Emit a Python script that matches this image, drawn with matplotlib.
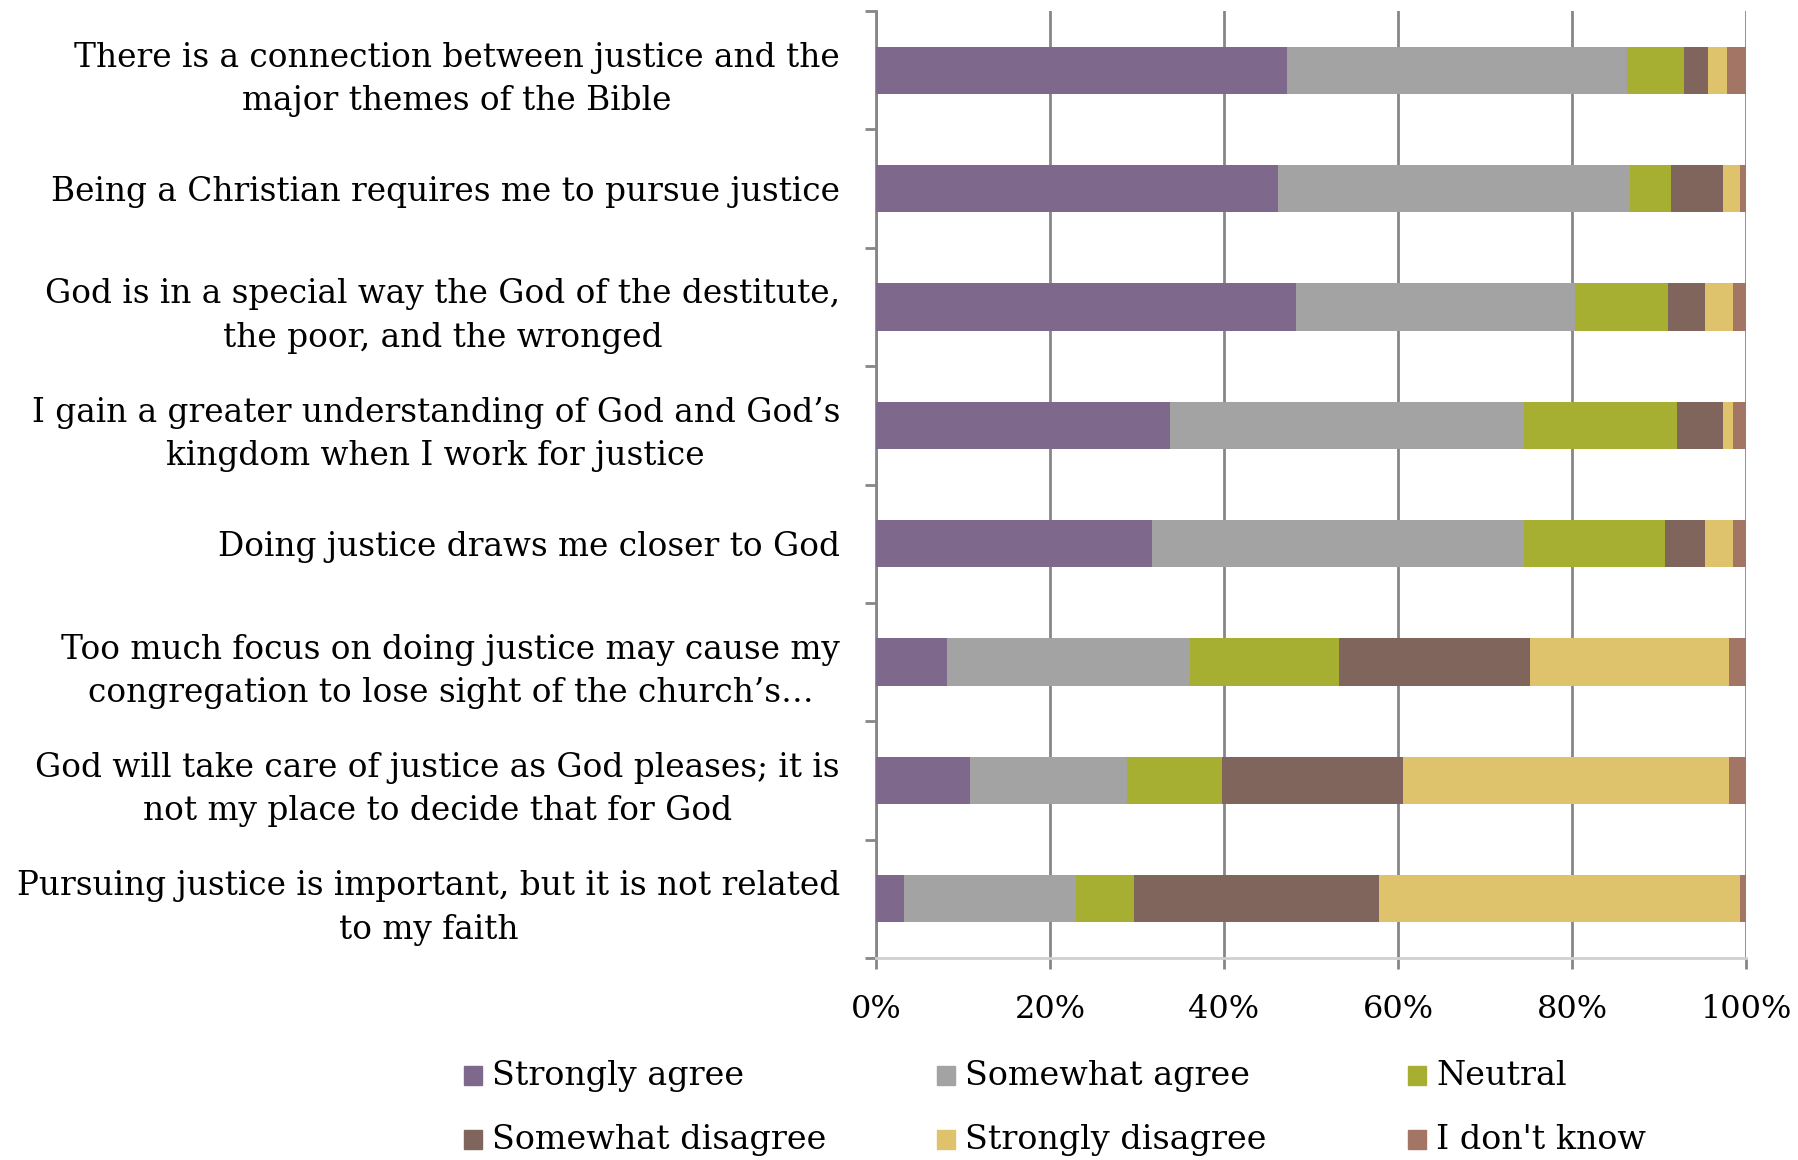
import matplotlib.pyplot as plt
import numpy as np
from matplotlib.patches import Rectangle

plt.rcParams['font.family'] = ['DejaVu Serif']

statements = [
    "There is a connection between justice and the\nmajor themes of the Bible",
    "Being a Christian requires me to pursue justice",
    "God is in a special way the God of the destitute,\nthe poor, and the wronged",
    "I gain a greater understanding of God and God\u2019s\nkingdom when I work for justice",
    "Doing justice draws me closer to God",
    "Too much focus on doing justice may cause my\ncongregation to lose sight of the church\u2019s\u2026",
    "God will take care of justice as God pleases; it is\nnot my place to decide that for God",
    "Pursuing justice is important, but it is not related\nto my faith",
]

strongly_agree    = [47.2, 46.2, 48.3, 33.8, 31.7, 8.2, 10.8, 3.2]
somewhat_agree    = [39.1, 40.5, 32.0, 40.7, 42.8, 27.9, 18.1, 19.8]
neutral           = [6.6, 4.7, 10.7, 17.6, 16.2, 17.1, 10.9, 6.6]
somewhat_disagree = [2.7, 5.9, 4.3, 5.2, 4.6, 22.0, 20.8, 28.2]
strongly_disagree = [2.2, 2.0, 3.2, 1.2, 3.2, 22.9, 37.5, 41.5]
dont_know         = [2.2, 0.7, 1.5, 1.5, 1.5, 1.9, 1.9, 0.7]

series_names = ["Strongly agree", "Somewhat agree", "Neutral",
                "Somewhat disagree", "Strongly disagree", "I don't know"]
colors = ["#7E698C", "#A3A3A3", "#A6AF32", "#7F655C", "#DEC26C", "#A37565"]

series = [strongly_agree, somewhat_agree, neutral,
          somewhat_disagree, strongly_disagree, dont_know]

W, H = 1798, 1160
fig = plt.figure(figsize=(W / 100, H / 100), dpi=100)
ax = fig.add_axes([876 / W, 1 - 958 / H, 870 / W, (958 - 11) / H])

y = np.arange(len(statements))
left = np.zeros(len(statements))
for vals, name, c in zip(series, series_names, colors):
    vals = np.array(vals)
    ax.barh(y, vals, left=left, height=0.4, color=c, label=name, zorder=3)
    left += vals

ax.set_xlim(0, 100)
ax.set_ylim(len(statements) - 0.5, -0.5)
ax.set_xticks(np.arange(0, 101, 20))
ax.set_xticklabels([f"{v}%" for v in range(0, 101, 20)], fontsize=23)
ax.set_yticks(y)
ax.set_yticklabels(statements, fontsize=23.6, multialignment='center', linespacing=1.45)
ax.set_yticks(np.arange(-0.5, len(statements), 1), minor=True)
ax.tick_params(axis='y', which='major', length=0, pad=26)
ax.tick_params(axis='y', which='minor', length=8, width=2, color='#868686', direction='out')
ax.tick_params(axis='x', length=8, width=2, color='#868686', direction='out', pad=18)

ax.grid(axis='x', color='#868686', linewidth=2, zorder=0)
for s in ['top', 'right']:
    ax.spines[s].set_visible(False)
ax.spines['left'].set_color('#868686')
ax.spines['left'].set_linewidth(2)
ax.spines['bottom'].set_color('#D0D0D0')
ax.spines['bottom'].set_linewidth(2)

# legend: 2 rows x 3 columns, drawn by hand to match spacing
col_x = [464, 937, 1408]
row_y = [1076, 1140]
for i, (name, c) in enumerate(zip(series_names, colors)):
    cx = col_x[i % 3]
    ry = row_y[i // 3]
    fig.patches.append(Rectangle((cx / W, 1 - (ry + 9) / H), 18 / W, 19 / H,
                                 color=c, transform=fig.transFigure))
    fig.text((cx + 28) / W, 1 - ry / H, name, fontsize=24, va='center', ha='left')

fig.savefig("out.png", dpi=100)
